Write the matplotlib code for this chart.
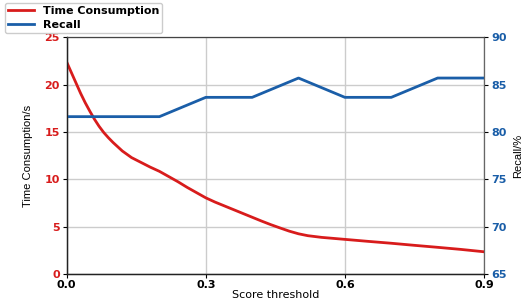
import matplotlib
matplotlib.use("Agg")
import matplotlib.pyplot as plt
from matplotlib.lines import Line2D

# Data
thr_time = [0.0, 0.01, 0.02, 0.03, 0.04, 0.05, 0.06, 0.07, 0.08, 0.09, 0.10, 0.12, 0.14, 0.16,
            0.18, 0.20, 0.22, 0.24, 0.26, 0.28, 0.30, 0.32, 0.34, 0.36, 0.38, 0.40, 0.42, 0.44,
            0.46, 0.48, 0.50, 0.52, 0.55, 0.60, 0.65, 0.70, 0.75, 0.80, 0.85, 0.90]
time_s = [22.4, 21.3, 20.2, 19.1, 18.1, 17.2, 16.35, 15.6, 14.95, 14.4, 13.9, 13.0, 12.3, 11.8,
          11.3, 10.85, 10.3, 9.75, 9.15, 8.6, 8.05, 7.6, 7.2, 6.8, 6.4, 6.0, 5.6, 5.22,
          4.87, 4.53, 4.25, 4.05, 3.87, 3.66, 3.45, 3.25, 3.03, 2.82, 2.6, 2.35]

thr_recall = [0.0, 0.1, 0.2, 0.3, 0.4, 0.5, 0.6, 0.7, 0.8, 0.9]
recall = [81.63, 81.63, 81.63, 83.67, 83.67, 85.71, 83.67, 83.67, 85.71, 85.71]

xticks = [0.0, 0.3, 0.6, 0.9]
left_ticks = [0, 5, 10, 15, 20, 25]
right_ticks = [65, 70, 75, 80, 85, 90]

RED = "#d81c1c"
BLUE = "#1a5ea8"

fig = plt.figure(figsize=(5.23, 3.02), dpi=100)
ax = fig.add_axes([0.1275, 0.0927, 0.9254 - 0.1275, 0.876 - 0.0927])
ax2 = ax.twinx()

ax.plot(thr_time, time_s, color=RED, lw=2.0, solid_joinstyle="round")
ax2.plot(thr_recall, recall, color=BLUE, lw=2.0)

ax.set_xlim(0, 0.9)
ax.set_ylim(0, 25)
ax2.set_ylim(65, 90)
ax.set_xticks(xticks)
ax.set_xticklabels([f"{t:.1f}" for t in xticks], fontweight="bold", fontsize=8)
ax.set_yticks(left_ticks)
ax.set_yticklabels([str(t) for t in left_ticks], fontweight="bold", fontsize=8, color=RED)
ax2.set_yticks(right_ticks)
ax2.set_yticklabels([str(t) for t in right_ticks], fontweight="bold", fontsize=8, color=BLUE)

ax.grid(True, color="#cccccc", lw=1.0)
ax.set_axisbelow(True)
ax.tick_params(axis="y", length=3, width=0.8, pad=2)
ax.tick_params(axis="x", length=3, width=0.8, pad=1)
ax2.tick_params(length=3, width=0.8, pad=2)

for s in ["left", "bottom"]:
    ax.spines[s].set_color("#222222")
    ax.spines[s].set_linewidth(1.0)
ax2.spines["right"].set_color("#666666")
ax2.spines["top"].set_color("#444444")
ax2.spines["left"].set_color("#222222")
ax2.spines["bottom"].set_color("#222222")

narrow = ["Liberation Sans Narrow", "Liberation Sans", "DejaVu Sans"]
ax.set_xlabel("Score threshold", fontsize=8, labelpad=0)
ax.set_ylabel("Time Consumption/s", fontsize=8, family=narrow, labelpad=8)
ax2.set_ylabel("Recall/%", fontsize=8, family=narrow, labelpad=5)

handles = [Line2D([0], [0], color=RED, lw=2), Line2D([0], [0], color=BLUE, lw=2)]
fig.legend(handles, ["Time Consumption", "Recall"], loc="lower left",
           bbox_to_anchor=(5 / 523, 1 - 33 / 302), bbox_transform=fig.transFigure,
           prop={"weight": "bold", "size": 8}, frameon=True, framealpha=1,
           edgecolor="#cccccc", handlelength=2.3, labelspacing=0.3,
           borderaxespad=0, borderpad=0.3)

fig.savefig("out.png", dpi=100)
